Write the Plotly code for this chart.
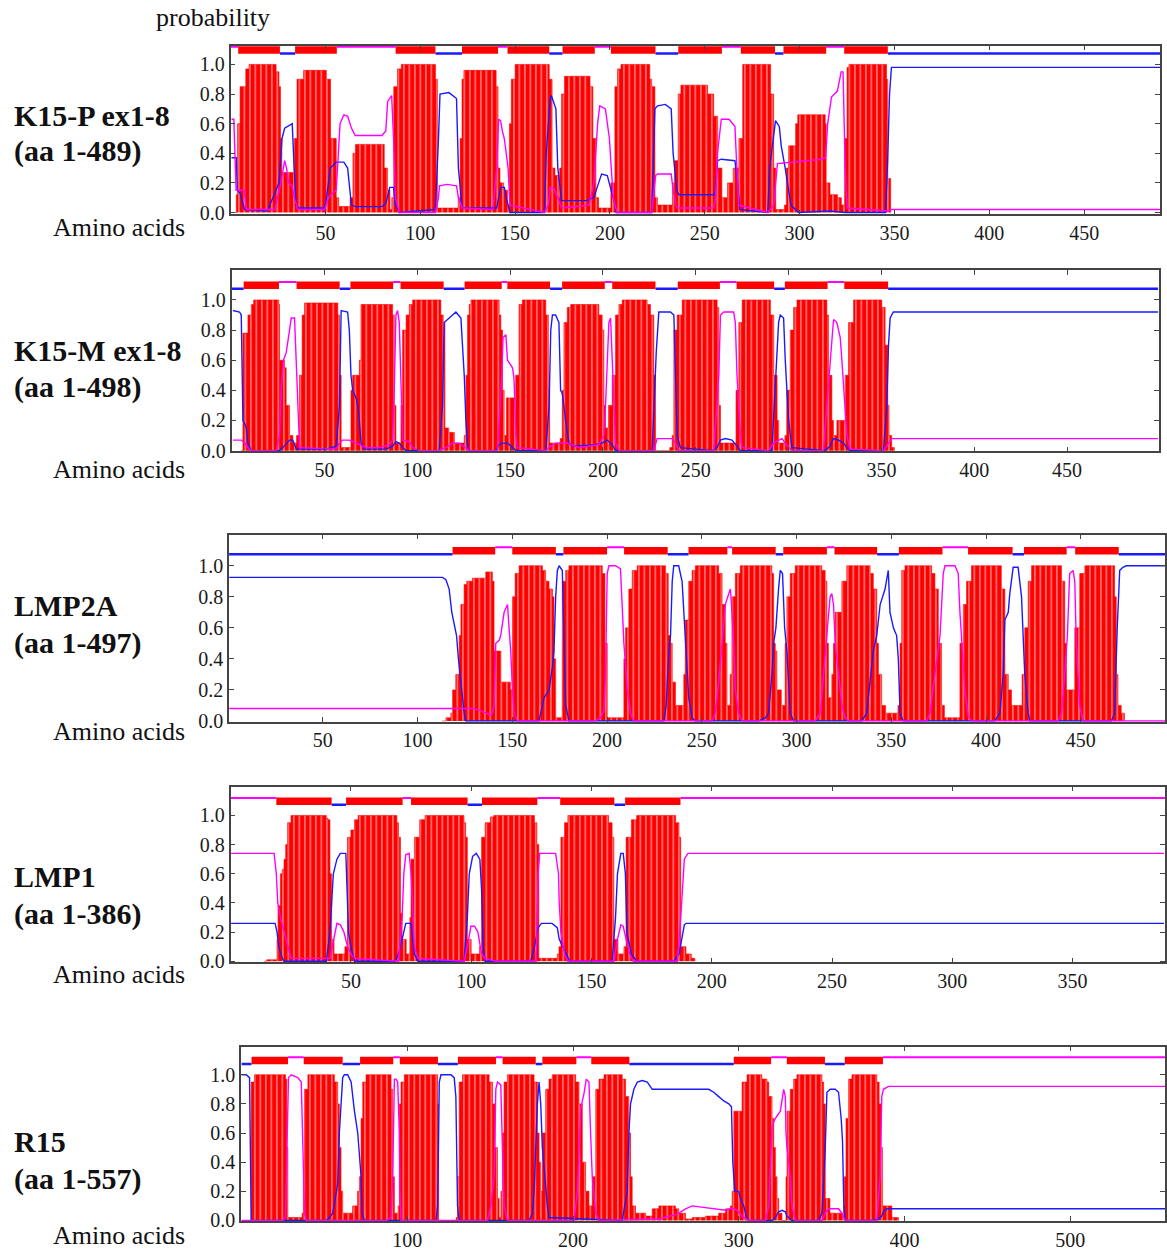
import plotly.graph_objects as go

W, H = 1167, 1258
RED, BLUE, MAG = '#ff0000', '#1a1aff', '#ff00ff'
FONT = 'Liberation Serif'

# ---------------- K15-P ex1-8 (aa 1-489) ----------------
K15P_TM = [(2,0),(3,0.12),(3.7,0.6),(5,0.85),(8,0.97),(9.7,1.0),(22.4,1.0),(24,0.95),(25.5,0.85),(26.3,0.5),(27,0.27),(32.5,0.27),(33,0.05),(33.5,0.5),(35,0.9),(38.5,0.96),(48.5,0.96),(50.5,0.9),(52.7,0.5),(55.7,0.1),(57,0.04),(62,0.04),(63,0.1),(64.5,0.4),(65.8,0.46),(79.8,0.46),(81,0.3),(82.7,0.15),(84,0.02),(85,0.1),(86,0.85),(88,0.97),(90,1.0),(106,1.0),(108,0.9),(109,0.03),(119,0.03),(120,0.1),(121,0.5),(122,0.9),(123,0.96),(138,0.96),(140,0.85),(141,0.3),(142,0.2),(144,0.15),(146,0.05),(147,0.6),(148,0.9),(150,1.0),(166,1.0),(168,0.9),(169.5,0.3),(171,0.25),(173,0.1),(173.5,0.3),(174.5,0.8),(176,0.92),(188,0.92),(189.5,0.85),(191,0.5),(192.6,0.1),(194,0.03),(199,0.03),(200.5,0.2),(202.6,0.85),(204,0.97),(205.8,1.0),(219.5,1.0),(221,0.9),(222,0.85),(223.7,0.1),(225,0.05),(232,0.05),(233,0.2),(234,0.35),(236,0.8),(237.4,0.86),(250,0.86),(251.5,0.8),(254.7,0.65),(256.8,0.3),(259,0.1),(262,0.2),(265,0.3),(267,0.3),(268,0.5),(270,1.0),(283,1.0),(284.7,0.8),(286.3,0.3),(287.4,0.02),(292,0.05),(293,0.3),(294.2,0.45),(297.9,0.6),(299,0.66),(312,0.66),(313.5,0.6),(314,0.2),(316,0.12),(320,0.1),(322,0.05),(323.7,0.5),(325,0.98),(326,1.0),(344.2,1.0),(345.8,0.9),(346.5,0.2),(347,0.23),(348,0.0)]
K15P_IN = [(0.5,0.37),(3,0.37),(3.5,0.15),(5,0.13),(7.3,0.02),(19.4,0.01),(25.5,0.2),(27.1,0.5),(28.5,0.57),(32.5,0.6),(33.5,0.3),(34.5,0.05),(36,0.03),(49.6,0.03),(50.6,0.1),(51.6,0.2),(52.6,0.3),(55.7,0.34),(59.7,0.34),(61.7,0.3),(62.7,0.15),(63.7,0.05),(65.7,0.04),(79.8,0.04),(81.8,0.06),(83.9,0.17),(85.9,0.17),(86.9,0.05),(88.9,0.0),(108,0.02),(109.6,0.5),(110.4,0.8),(115.1,0.81),(119.1,0.77),(120.1,0.3),(122.1,0.03),(140.3,0.03),(141.3,0.1),(142.3,0.17),(144.3,0.17),(145.3,0.1),(147.3,0.0),(165.4,0.0),(166.4,0.4),(168.5,0.77),(169.1,0.79),(171.5,0.7),(172.5,0.3),(174.5,0.08),(187.4,0.08),(191.5,0.1),(193.5,0.18),(195.6,0.26),(198.6,0.25),(200.7,0.15),(202.7,0.05),(203.3,0.0),(222,0.0),(223.7,0.7),(225.1,0.72),(229.2,0.73),(232.3,0.7),(233.3,0.4),(235.3,0.15),(236.3,0.12),(254.7,0.12),(255.7,0.15),(256.7,0.35),(258.7,0.36),(265.9,0.35),(267.3,0.2),(268.5,0.02),(283.2,0.0),(284.2,0.3),(287.3,0.62),(289.3,0.58),(290.3,0.45),(292.4,0.3),(295.4,0.05),(299.5,0.0),(315.8,0.01),(324,0.0),(345.3,0.0),(346.4,0.35),(347.4,0.8),(348.4,0.98),(350.4,0.98),(490,0.98)]
K15P_OUT = [(0.5,0.63),(1.7,0.63),(2.9,0.15),(7.3,0.15),(8.3,0.02),(23.4,0.02),(26.5,0.2),(28.5,0.35),(29.5,0.3),(30.5,0.2),(32.5,0.18),(33.5,0.1),(35.5,0.02),(49.6,0.02),(51.6,0.1),(53.7,0.13),(55.7,0.15),(56.7,0.4),(57.7,0.6),(59.7,0.66),(61.7,0.65),(63.7,0.57),(65.7,0.52),(79.8,0.52),(81.8,0.55),(82.8,0.75),(84.9,0.79),(85.9,0.5),(86.9,0.1),(88.9,0.0),(108,0.0),(109.6,0.1),(110.1,0.18),(114.1,0.19),(119.1,0.18),(120.1,0.1),(122.1,0.03),(138.3,0.02),(140.3,0.3),(141.3,0.63),(142.3,0.62),(143.3,0.55),(144.3,0.5),(146.3,0.3),(147.3,0.05),(165.4,0.0),(167.5,0.05),(168.5,0.17),(170.5,0.16),(172.5,0.1),(174.5,0.03),(189,0.05),(191.5,0.2),(193.5,0.6),(194.6,0.72),(197.6,0.7),(199.7,0.5),(201.7,0.1),(203.7,0.0),(222,0.0),(224.1,0.25),(225.1,0.26),(232.3,0.26),(233.3,0.15),(235.3,0.03),(254.7,0.03),(255.7,0.1),(256.7,0.4),(258.7,0.63),(262.8,0.63),(265.9,0.58),(266.9,0.3),(267.9,0.05),(283.2,0.0),(286.3,0.05),(288.3,0.33),(295.4,0.34),(311.7,0.36),(313.7,0.37),(314.8,0.6),(316.8,0.78),(319.9,0.82),(321.9,0.95),(322.9,0.95),(324,0.3),(325,0.03),(346.4,0.01),(348.4,0.02),(490,0.02)]
K15P_TOPO = [(0,4,'o'),(4,26,'t'),(26,34,'i'),(34,56,'t'),(56,87,'o'),(87,108,'t'),(108,122,'i'),(122,141,'t'),(141,146,'o'),(146,168,'t'),(168,175,'i'),(175,192,'t'),(192,200.5,'o'),(200.5,224,'t'),(224,236,'i'),(236,259,'t'),(259,269,'o'),(269,287,'t'),(287,291.5,'i'),(291.5,314,'t'),(314,323.5,'o'),(323.5,346.5,'t'),(346.5,490,'i')]
K15P_XTICKS = [50, 100, 150, 200, 250, 300, 350, 400, 450]

# ---------------- K15-M ex1-8 (aa 1-498) ----------------
K15M_TM = [(5.2,0),(6.1,0.78),(7.9,0.78),(8.8,0.9),(10.6,0.97),(11.9,1.0),(24,1.0),(25.4,0.97),(25.8,0.6),(28.5,0.55),(29.4,0.3),(31.2,0.1),(33,0.05),(35,0.1),(36.6,0.5),(38,0.9),(39.3,0.98),(55.4,0.98),(57.2,0.9),(58.1,0.5),(59,0.02),(63.5,0.02),(64.3,0.4),(65.2,0.5),(68.8,0.6),(69.7,0.97),(85,0.97),(86.7,0.9),(87.6,0.3),(88.5,0.05),(90.5,0.05),(91.2,0.3),(92.1,0.8),(94,0.9),(95.7,0.97),(97.5,1.0),(111,1.0),(112.7,0.9),(114,0.85),(114.9,0.15),(117,0.12),(120,0.05),(125.3,0.1),(126.2,0.5),(127.1,0.9),(128,0.97),(128.9,1.0),(142.3,1.0),(144.1,0.9),(145,0.8),(145.9,0.4),(146.8,0.1),(148,0.35),(151.5,0.35),(153,0.5),(154.8,0.97),(156.6,1.0),(167.4,1.0),(169.2,0.9),(170.6,0.4),(171.3,0.05),(177,0.08),(178.1,0.4),(179,0.85),(180.8,0.95),(182.6,0.97),(196,0.97),(197.8,0.9),(199.6,0.8),(200.5,0.3),(201.4,0.15),(203,0.3),(204.2,0.3),(205,0.5),(206.8,0.9),(208.6,0.97),(210.4,1.0),(222.1,1.0),(223.8,0.97),(225.6,0.9),(227.4,0.5),(228.3,0.0),(236,0.02),(237.3,0.1),(238.2,0.8),(240,0.9),(242.7,1.0),(258.8,1.0),(261.5,0.95),(262.4,0.3),(263.3,0.05),(270,0.05),(271.7,0.4),(273.2,0.85),(275,1.0),(288.5,1.0),(290.2,0.9),(292,0.5),(293.8,0.2),(294.7,0.05),(298,0.1),(299,0.4),(300.9,0.8),(302.7,0.95),(304.5,1.0),(318.8,1.0),(320.6,0.9),(321.5,0.5),(323.3,0.2),(324.2,0.1),(326,0.2),(329,0.2),(330.5,0.5),(332.3,0.85),(335,1.0),(348.4,1.0),(350.2,0.95),(352,0.7),(353.4,0.3),(354.1,0.1),(355.5,0.02),(357,0)]
K15M_IN = [(0.7,0.93),(4.3,0.92),(5.2,0.9),(6.1,0.2),(7,0.18),(7.9,0.15),(8.8,0.05),(10.6,0.0),(25.8,0.0),(27.6,0.02),(31.2,0.07),(33,0.07),(33.9,0.04),(34.8,0.01),(50.9,0.01),(56.3,0.03),(58.1,0.3),(59,0.93),(62.5,0.92),(63.4,0.8),(64.3,0.5),(65.2,0.4),(67,0.35),(67.9,0.3),(68.8,0.2),(69.7,0.05),(71.5,0.01),(83.1,0.01),(86.7,0.03),(88.5,0.06),(90.3,0.05),(92.1,0.02),(93.9,0.0),(111.8,0.0),(113.6,0.3),(114.5,0.85),(117.2,0.88),(120.8,0.92),(123.5,0.88),(125.3,0.5),(126.2,0.2),(127.1,0.03),(127.9,0.0),(142.3,0.0),(144.1,0.04),(145.9,0.05),(148.6,0.05),(151.3,0.02),(153.1,0.0),(169.2,0.0),(171,0.3),(171.9,0.8),(172.8,0.9),(174.5,0.9),(176.3,0.85),(177.2,0.4),(178.1,0.38),(179.9,0.2),(181.7,0.05),(183.5,0.03),(196,0.04),(199.6,0.05),(202.3,0.07),(205,0.04),(206.8,0.0),(226.5,0.0),(227.4,0.3),(228.7,0.65),(230.1,0.92),(236.4,0.92),(238.2,0.9),(239.1,0.5),(240,0.1),(241.7,0.02),(258.8,0.0),(261.5,0.02),(263.3,0.07),(265.9,0.08),(269.5,0.07),(272.2,0.03),(274,0.0),(291,0.0),(292.8,0.4),(294.6,0.85),(295.5,0.9),(297.3,0.88),(298.2,0.6),(299.1,0.4),(300,0.2),(301.8,0.02),(319.7,0.0),(322.4,0.03),(324.2,0.08),(326.9,0.07),(329.6,0.05),(331.3,0.02),(333.1,0.0),(351.1,0.0),(352.9,0.3),(353.8,0.7),(354.7,0.88),(356.4,0.92),(499,0.92)]
K15M_OUT = [(0.7,0.07),(5.2,0.07),(7,0.05),(8.8,0.02),(10.6,0.0),(24,0.0),(25.8,0.1),(26.7,0.4),(27.9,0.6),(29.4,0.65),(31.2,0.8),(32.1,0.88),(33.9,0.88),(34.8,0.6),(35.7,0.2),(36.6,0.02),(56.3,0.01),(58.1,0.05),(59.8,0.07),(63.4,0.07),(67,0.05),(72.4,0.02),(79.6,0.02),(84.9,0.04),(86.7,0.07),(87.6,0.4),(88.5,0.9),(89.4,0.93),(90.3,0.85),(91.2,0.5),(92.1,0.07),(95.7,0.06),(97.5,0.02),(101.1,0.0),(111.8,0.0),(115.4,0.02),(119,0.05),(122.6,0.05),(126.2,0.02),(127.9,0.0),(143.2,0.0),(144.1,0.2),(145.5,0.5),(146.2,0.75),(147.7,0.77),(148.6,0.6),(151.3,0.55),(152.1,0.48),(153.1,0.1),(153.9,0.02),(169.2,0.0),(171.9,0.03),(174.5,0.05),(180.8,0.05),(182.6,0.04),(187.1,0.02),(197.8,0.04),(200.5,0.1),(201.4,0.3),(202.3,0.55),(203.2,0.85),(204.1,0.88),(205,0.6),(205.9,0.3),(206.8,0.05),(208.6,0.0),(227.4,0.0),(229.2,0.08),(237.3,0.08),(239.1,0.05),(240.9,0.0),(259.7,0.0),(262.4,0.5),(263.3,0.9),(265.1,0.92),(270.4,0.92),(271.3,0.85),(272.2,0.5),(274,0.1),(274.9,0.02),(289.2,0.0),(291.9,0.05),(294.6,0.07),(296.4,0.08),(298.2,0.05),(300,0.02),(301.8,0.0),(318.8,0.0),(320.6,0.3),(322.4,0.6),(324.2,0.87),(326,0.85),(327.8,0.75),(328.7,0.6),(330.5,0.3),(331.4,0.1),(333.1,0.01),(351.1,0.0),(352.9,0.03),(355.5,0.08),(499,0.08)]
K15M_TOPO = [(0,6.5,'i'),(6.5,25.5,'t'),(25.5,35,'o'),(35,58.2,'t'),(58.2,64,'i'),(64,87,'t'),(87,91,'o'),(91,114.2,'t'),(114.2,125.5,'i'),(125.5,145.5,'t'),(145.5,148.5,'o'),(148.5,171.5,'t'),(171.5,178,'i'),(178,201,'t'),(201,205,'o'),(205,228.3,'t'),(228.3,240.3,'i'),(240.3,263,'t'),(263,272,'o'),(272,292.2,'t'),(292.2,298,'i'),(298,321,'t'),(321,330,'o'),(330,353.6,'t'),(353.6,499,'i')]
K15M_XTICKS = [50, 100, 150, 200, 250, 300, 350, 400, 450]

# ---------------- LMP2A (aa 1-497) ----------------
LMP2A_TM = [(113,0),(115,0.02),(117.6,0.05),(118.5,0.2),(120.2,0.3),(122,0.55),(122.9,0.75),(124.6,0.88),(126,0.9),(129,0.92),(132.5,0.92),(136,0.96),(138.7,0.96),(139.5,0.9),(140.4,0.45),(143.1,0.45),(144,0.25),(148.3,0.25),(149,0.2),(150.1,0.8),(151.5,0.95),(153.6,1.0),(165,1.0),(165.9,0.97),(167.6,0.9),(169.4,0.85),(171.2,0.8),(172,0.4),(172.9,0.02),(175.5,0.02),(176.4,0.9),(178.2,0.97),(179.9,1.0),(195.7,1.0),(197.5,0.95),(198.9,0.5),(200.1,0.02),(207,0.02),(208.9,0.4),(209.8,0.6),(211.5,0.85),(213.3,0.97),(215.9,1.0),(229.1,1.0),(230.9,0.95),(232.3,0.55),(233.5,0.5),(234.4,0.25),(236.1,0.1),(238.7,0.1),(240.5,0.3),(241.3,0.65),(243.1,0.9),(244.9,0.97),(246.6,1.0),(257.1,1.0),(258.9,0.95),(260.7,0.75),(262.4,0.5),(263.3,0.1),(265,0.3),(265.9,0.8),(267.7,0.95),(270.3,1.0),(285.2,1.0),(287,0.95),(287.9,0.5),(288.8,0.45),(289.6,0.2),(292,0.1),(294,0.5),(294.9,0.8),(296.7,0.95),(299.3,1.0),(311.6,1.0),(313.3,0.97),(315.1,0.9),(316,0.5),(316.8,0.15),(318.6,0.3),(319.5,0.5),(320.4,0.7),(323.9,0.9),(326.5,1.0),(337,1.0),(338.8,0.95),(340.5,0.85),(342.3,0.5),(343.2,0.3),(344.9,0.1),(347,0.05),(353.5,0.1),(354.6,0.5),(355.5,0.97),(357.2,1.0),(369.5,1.0),(371.3,0.95),(373,0.85),(374.8,0.5),(376.5,0.1),(378,0.02),(385,0.02),(386.2,0.5),(388,0.75),(389.7,0.9),(392.3,1.0),(406.4,1.0),(408.1,0.85),(409.9,0.3),(411.7,0.2),(413.4,0.1),(416,0.1),(419,0.3),(420.4,0.6),(422.2,0.9),(424,1.0),(438,1.0),(439.8,0.9),(441.5,0.5),(442.4,0.2),(445,0.2),(446.8,0.6),(449.4,0.95),(452.1,1.0),(466.1,1.0),(467.8,0.8),(468.7,0.3),(469.6,0.1),(471.3,0.05),(473,0)]
LMP2A_IN = [(0.6,0.925),(113.2,0.925),(115,0.91),(116.7,0.85),(118.1,0.7),(119.4,0.62),(120.6,0.55),(121.6,0.4),(122.9,0.25),(123.7,0.12),(124.6,0.05),(125.5,0.0),(164.1,0.0),(165,0.05),(166.8,0.15),(169.4,0.2),(171.2,0.35),(172,0.45),(172.9,0.8),(173.8,0.97),(174.7,1.0),(176.4,0.97),(177.3,0.5),(178.2,0.1),(179.9,0.0),(230,0.0),(231.2,0.1),(232.6,0.45),(233.5,0.55),(234.4,0.9),(235.2,1.0),(237.8,1.0),(239.6,0.9),(241.3,0.5),(243.1,0.15),(244.9,0.02),(246.6,0.0),(280,0.0),(283.5,0.02),(285.2,0.05),(287,0.3),(287.9,0.5),(289.1,0.6),(290.5,0.85),(291.4,0.97),(292.6,0.95),(293.7,0.6),(294.9,0.45),(295.8,0.2),(296.7,0.05),(298.4,0.0),(334.4,0.0),(337,0.05),(338.8,0.25),(340.5,0.45),(342.3,0.55),(344.1,0.75),(346.7,0.85),(348.4,0.97),(349.3,0.7),(351.1,0.6),(352.8,0.55),(353.7,0.4),(354.6,0.05),(356.3,0.0),(404.6,0.0),(407.3,0.05),(409,0.3),(409.9,0.65),(411.7,0.7),(412.5,0.82),(414.3,0.99),(416.9,0.99),(418.7,0.8),(419.6,0.5),(420.4,0.3),(422.2,0.05),(423.1,0.0),(466.1,0.0),(467.8,0.05),(469.2,0.6),(470.5,0.97),(472.2,0.99),(474,1.0),(498,1.0)]
LMP2A_OUT = [(0.6,0.08),(129,0.08),(132.5,0.07),(136,0.05),(138.7,0.04),(139.5,0.05),(140.4,0.1),(141.3,0.5),(143.1,0.52),(143.9,0.55),(145.7,0.7),(147.5,0.75),(148.3,0.6),(149.2,0.45),(150.1,0.2),(151,0.05),(152.7,0.0),(194,0.0),(196.6,0.02),(198.4,0.07),(199.2,0.3),(200.1,0.95),(201,1.0),(204.5,1.0),(207.1,0.98),(208,0.7),(208.9,0.5),(210.7,0.2),(212.4,0.05),(214.2,0.0),(255.4,0.0),(257.1,0.05),(258.9,0.25),(260.7,0.5),(262.4,0.75),(264.2,0.82),(265.1,0.85),(265.9,0.7),(266.8,0.5),(267.7,0.2),(269.4,0.05),(271.2,0.0),(309.8,0.0),(312.5,0.05),(315.1,0.4),(316.8,0.65),(317.7,0.8),(318.6,0.82),(319.5,0.75),(320.4,0.5),(322.1,0.3),(323.9,0.1),(325.6,0.02),(327.4,0.0),(368.6,0.0),(370.4,0.05),(373,0.3),(375.7,0.55),(377.4,0.95),(378.3,1.0),(383.6,1.0),(385.3,0.95),(386.2,0.7),(387.1,0.5),(388.8,0.2),(390.6,0.03),(392.3,0.0),(438,0.0),(439.8,0.05),(441.5,0.3),(442.9,0.55),(444.1,0.95),(445.9,0.97),(446.8,0.9),(447.6,0.5),(449.4,0.1),(451.2,0.0),(498,0.0)]
LMP2A_TOPO = [(0,118.5,'i'),(118.5,141,'t'),(141,150,'o'),(150,173,'t'),(173,177,'i'),(177,200,'t'),(200,209,'o'),(209,232,'t'),(232,243,'i'),(243,263.5,'t'),(263.5,266,'o'),(266,289,'t'),(289,293,'i'),(293,316,'t'),(316,320,'o'),(320,342.5,'t'),(342.5,354,'i'),(354,377,'t'),(377,390.5,'o'),(390.5,414,'t'),(414,420,'i'),(420,442.5,'t'),(442.5,447,'o'),(447,470,'t'),(470,498,'i')]
LMP2A_XTICKS = [50, 100, 150, 200, 250, 300, 350, 400, 450]

# ---------------- LMP1 (aa 1-386) ----------------
LMP1_TM = [(14,0),(15,0.01),(18.5,0.01),(19.3,0.15),(19.7,0.38),(20.7,0.6),(21.5,0.63),(22.2,0.7),(22.9,0.8),(23.7,0.95),(25.1,1.0),(38.3,1.0),(39.8,0.98),(40.5,0.97),(41.3,0.6),(42,0.15),(43,0.05),(47.5,0.1),(48.6,0.85),(50,0.9),(51.5,0.97),(53,1.0),(67.6,1.0),(69.1,0.95),(69.8,0.85),(70.6,0.33),(71.3,0.15),(73,0.05),(74.5,0.3),(75,0.7),(76.4,0.85),(78.6,0.97),(80.8,1.0),(95.5,1.0),(97,0.95),(97.7,0.85),(98.4,0.15),(100,0.05),(103.5,0.1),(104.3,0.85),(105.8,0.95),(108,0.99),(109.4,1.0),(124.8,1.0),(126.3,0.95),(127.3,0.8),(128.1,0.02),(135.8,0.05),(136.5,0.1),(137.3,0.85),(138.8,0.95),(140.2,1.0),(155.6,1.0),(157.1,0.95),(158.6,0.85),(159.3,0.15),(161,0.05),(163.5,0.1),(164.4,0.85),(166.6,0.97),(168.8,1.0),(182.7,1.0),(185,0.95),(186.4,0.85),(187.1,0.1),(189.3,0.05),(191.5,0.02),(193,0)]
LMP1_IN = [(0.2,0.26),(18.5,0.26),(19.3,0.2),(20,0.1),(21.5,0.02),(22.2,0.0),(39.8,0.0),(41.3,0.2),(42,0.4),(42.7,0.6),(44.2,0.7),(45.6,0.74),(47.9,0.74),(48.3,0.5),(49,0.2),(50,0.1),(51.5,0.0),(68.4,0.0),(69.8,0.05),(71.3,0.15),(72.8,0.26),(75,0.26),(75.7,0.15),(76.4,0.05),(77.9,0.0),(97,0.0),(98.4,0.3),(99.2,0.6),(100.6,0.72),(102.1,0.74),(103.6,0.7),(104.3,0.5),(105,0.1),(105.8,0.0),(124.8,0.0),(126.3,0.1),(127.8,0.23),(129.2,0.26),(133.6,0.26),(135.8,0.23),(136.6,0.15),(138,0.1),(139.5,0.05),(141,0.0),(158.6,0.0),(160,0.3),(160.8,0.6),(162.2,0.74),(163.2,0.74),(164.1,0.6),(164.7,0.2),(166.6,0.05),(168.8,0.0),(184.2,0.0),(186.4,0.05),(187.6,0.15),(188.6,0.25),(189.3,0.26),(388,0.26)]
LMP1_OUT = [(0.2,0.74),(18.1,0.74),(19,0.6),(19.6,0.4),(20.7,0.3),(22.2,0.2),(23.7,0.1),(25.1,0.02),(41.3,0.02),(42.7,0.15),(44.2,0.26),(45.6,0.25),(47.1,0.2),(48.6,0.1),(50,0.05),(51.5,0.02),(69.8,0.0),(71.3,0.3),(72,0.6),(72.8,0.73),(74.2,0.74),(75,0.6),(75.7,0.3),(76.4,0.1),(77.9,0.02),(97,0.0),(98.4,0.1),(99.9,0.24),(101.4,0.24),(102.8,0.2),(104.3,0.05),(105.8,0.02),(110.2,0.0),(127,0.0),(127.8,0.6),(128.5,0.74),(135.1,0.74),(136.3,0.6),(136.6,0.4),(137.3,0.2),(138.8,0.05),(140.2,0.0),(159.3,0.0),(160.8,0.15),(162.2,0.25),(163.2,0.24),(164.4,0.15),(165.9,0.05),(167.4,0.0),(185.7,0.0),(187.1,0.3),(187.9,0.55),(188.6,0.7),(190.1,0.74),(388,0.74)]
LMP1_TOPO = [(0,19,'o'),(19,42,'t'),(42,48,'i'),(48,71.5,'t'),(71.5,75,'o'),(75,98.5,'t'),(98.5,104.5,'i'),(104.5,127.5,'t'),(127.5,137,'o'),(137,159.5,'t'),(159.5,164,'i'),(164,187,'t'),(187,389,'o')]
LMP1_XTICKS = [50, 100, 150, 200, 250, 300, 350]

# ---------------- R15 (aa 1-557) ----------------
R15_TM = [(5,0),(5.8,0.95),(7.8,1.0),(24.9,1.0),(26.5,0.97),(27.3,0.5),(27.9,0.02),(36.5,0.05),(37.3,0.3),(38,0.9),(40,1.0),(54,1.0),(56,0.95),(58,0.8),(59,0.5),(60,0.2),(61,0.05),(67,0.1),(70,0.2),(71.1,0.3),(72.1,0.7),(73.1,0.95),(75.1,1.0),(89.2,1.0),(90.2,0.9),(91.2,0.3),(92.2,0.05),(94.5,0.1),(95.2,0.8),(96.2,0.95),(98.2,1.0),(117.3,1.0),(118.3,0.8),(118.9,0.0),(129.5,0.02),(130.3,0.3),(131.3,0.95),(133.3,1.0),(147.4,1.0),(149.4,0.95),(151.4,0.8),(153,0.5),(154.4,0.15),(155.4,0.02),(156.5,0.2),(157.4,0.6),(158.4,0.95),(160.4,1.0),(174.5,1.0),(176.5,0.95),(178.5,0.6),(179.5,0.4),(180.5,0.2),(181.5,0.6),(183.5,0.9),(185.5,0.97),(187.5,1.0),(199.6,1.0),(201.6,0.95),(203.6,0.8),(205.6,0.4),(207.6,0.2),(209.6,0.1),(210.6,0.1),(211.6,0.3),(213.7,0.9),(215.7,0.97),(218.7,1.0),(227.7,1.0),(229.7,0.97),(231.7,0.85),(233.7,0.6),(234.7,0.3),(235.7,0.1),(237.7,0.05),(240.8,0.05),(243.8,0.03),(247.8,0.08),(251.8,0.1),(259.8,0.1),(261.8,0.08),(263.8,0.05),(265.9,0.05),(267.9,0.01),(271.9,0.02),(279.9,0.03),(287.9,0.05),(292,0.08),(295,0.1),(296,0.2),(297,0.75),(300,0.75),(302,0.95),(305,1.0),(312,1.0),(314,0.97),(317,0.95),(318.1,0.85),(320.1,0.7),(321.1,0.5),(322.1,0.3),(323.1,0.15),(324.1,0.05),(326.1,0.0),(328.5,0.3),(329.1,0.75),(331.1,0.9),(333.1,0.97),(335.1,1.0),(349.2,1.0),(350.2,0.95),(351.2,0.8),(352.2,0.15),(355,0.05),(359.2,0.05),(363.2,0.1),(363.8,0.3),(364.7,0.7),(366.3,0.97),(368.3,1.0),(381.3,1.0),(383.3,0.95),(384.7,0.8),(385.9,0.5),(386.7,0.1),(392.4,0.02),(396.4,0)]
R15_IN = [(0,1.0),(2.8,1.0),(4.8,0.98),(5.4,0.5),(5.8,0.0),(51,0.0),(53,0.02),(55,0.05),(57,0.2),(58,0.25),(59,0.6),(60,0.8),(61,0.98),(62,1.0),(64,1.0),(66.1,0.95),(67.1,0.85),(68.1,0.75),(70.1,0.6),(71.1,0.45),(72.1,0.3),(72.7,0.05),(74.1,0.0),(117.3,0.0),(118.3,0.1),(119.3,0.95),(120.3,1.0),(126.3,1.0),(128.3,0.98),(129.3,0.85),(130.3,0.1),(131.3,0.0),(173.5,0.0),(175.5,0.05),(176.5,0.2),(177.5,0.5),(178.5,0.8),(179.5,0.95),(180.5,0.8),(181.5,0.5),(182.5,0.35),(183.5,0.25),(184.5,0.1),(185.5,0.02),(229.7,0.0),(232.7,0.2),(233.7,0.6),(234.7,0.8),(236.7,0.9),(238.8,0.95),(241.8,0.96),(244.8,0.95),(246.8,0.91),(247.8,0.9),(281.9,0.9),(284.9,0.88),(287.9,0.85),(291,0.82),(294,0.8),(295.6,0.78),(296.4,0.4),(297.6,0.2),(300,0.2),(301,0.15),(303,0.1),(305,0.01),(306,0.0),(320.1,0.0),(322.1,0.02),(324.1,0.06),(326.1,0.07),(328.1,0.06),(329.1,0.03),(332.1,0.0),(348.2,0.0),(350.2,0.05),(352.2,0.5),(353.2,0.88),(355.2,0.9),(358.2,0.9),(360.2,0.88),(361.8,0.7),(362.6,0.55),(363.4,0.1),(364.2,0.0),(380.3,0.0),(384.3,0.01),(386.3,0.03),(387.3,0.06),(389.4,0.08),(557.2,0.08)]
R15_OUT = [(0,0.0),(24.9,0.0),(26.5,0.02),(27.3,0.5),(28.3,0.98),(29.9,1.0),(33.9,0.98),(36,0.95),(37,0.5),(38,0.05),(39,0.0),(87.2,0.0),(90.2,0.02),(91.2,0.3),(92.2,0.97),(93.2,0.97),(94.2,0.95),(95.2,0.6),(95.6,0.2),(96.2,0.0),(148.4,0.0),(150.4,0.1),(152.4,0.3),(153.4,0.9),(154.4,0.95),(156.4,0.93),(157.4,0.5),(158.4,0.1),(160.4,0.0),(200.6,0.0),(202.6,0.2),(204.6,0.75),(205.6,0.82),(206.6,0.87),(208,0.97),(209.6,0.95),(210.6,0.6),(211.6,0.3),(213.7,0.05),(215.7,0.0),(251.8,0.01),(255.8,0.02),(261.8,0.04),(263.8,0.05),(267.9,0.08),(271.9,0.1),(277.9,0.09),(283.9,0.08),(292,0.07),(295,0.08),(297,0.08),(299,0.07),(302,0.03),(306,0.0),(316,0.0),(318.1,0.1),(320.1,0.65),(322.1,0.7),(325.1,0.75),(327.1,0.9),(328.1,0.85),(328.5,0.6),(329.1,0.5),(331.1,0.3),(332.1,0.1),(334.1,0.0),(350.2,0.0),(352.2,0.05),(354.2,0.08),(360.2,0.08),(362.2,0.05),(364.2,0.0),(383.3,0.0),(385.3,0.3),(386.3,0.85),(387.3,0.9),(390.4,0.92),(557.2,0.92)]
R15_TOPO = [(0,6,'i'),(6,28,'t'),(28,37.5,'o'),(37.5,61,'t'),(61,71.5,'i'),(71.5,91.5,'t'),(91.5,95.5,'o'),(95.5,118.5,'t'),(118.5,130.5,'i'),(130.5,153.5,'t'),(153.5,157.5,'o'),(157.5,177.5,'t'),(177.5,181.5,'i'),(181.5,202,'t'),(202,211,'o'),(211,234,'t'),(234,297,'i'),(297,319.5,'t'),(319.5,329,'o'),(329,352,'t'),(352,364,'i'),(364,387,'t'),(387,558,'o')]
R15_XTICKS = [100, 200, 300, 400, 500]

Y_TICKS = [0.0, 0.2, 0.4, 0.6, 0.8, 1.0]

PANEL_NAMES = ['K15-P ex1-8', 'K15-M ex1-8', 'LMP2A', 'LMP1', 'R15']
PANEL_SUBS = ['(aa 1-489)', '(aa 1-498)', '(aa 1-497)', '(aa 1-386)', '(aa 1-557)']

# layout geometry (pixels) and axis ranges
PANELS = [
    dict(tm=K15P_TM, inn=K15P_IN, out=K15P_OUT, topo=K15P_TOPO, xt=K15P_XTICKS,
         l=231, r=1162, t=46, b=216, xr=[0, 490], yr=[-0.012, 1.127], ly=(116, 152, 229)),
    dict(tm=K15M_TM, inn=K15M_IN, out=K15M_OUT, topo=K15M_TOPO, xt=K15M_XTICKS,
         l=232, r=1161, t=272, b=455, xr=[0, 499.5], yr=[-0.005, 1.2], ly=(353, 390, 473)),
    dict(tm=LMP2A_TM, inn=LMP2A_IN, out=LMP2A_OUT, topo=LMP2A_TOPO, xt=LMP2A_XTICKS,
         l=229.5, r=1167, t=539, b=727.5, xr=[0.6, 494.4], yr=[-0.005, 1.2], ly=(610, 648, 737)),
    dict(tm=LMP1_TM, inn=LMP1_IN, out=LMP1_OUT, topo=LMP1_TOPO, xt=LMP1_XTICKS,
         l=231, r=1167, t=793, b=970, xr=[0, 388.4], yr=[-0.007, 1.197], ly=(884, 921, 982)),
    dict(tm=R15_TM, inn=R15_IN, out=R15_OUT, topo=R15_TOPO, xt=R15_XTICKS,
         l=241.5, r=1167, t=1055, b=1231, xr=[-0.3, 557.2], yr=[-0.005, 1.193], ly=(1151, 1188, 1245)),
]

TOPO_STYLE = {'t': (1.097, 7.5, RED), 'i': (1.074, 2.5, BLUE), 'o': (1.12, 2, MAG)}

fig = go.Figure()
annotations = []
layout_axes = {}

for i, p in enumerate(PANELS):
    n = i + 1
    xa = 'x' if n == 1 else f'x{n}'
    ya = 'y' if n == 1 else f'y{n}'
    # TM probability (filled, impulse-like stripes)
    fig.add_trace(go.Scatter(x=[v[0] for v in p['tm']], y=[v[1] for v in p['tm']],
                             mode='lines', fill='tozeroy', fillcolor=RED,
                             fillpattern=dict(shape='|', size=5.5, solidity=0.18,
                                              fgcolor='#ffc4c4', bgcolor=RED, fillmode='replace'),
                             line=dict(color=RED, width=0.6, shape='hv'), xaxis=xa, yaxis=ya,
                             hoverinfo='skip', showlegend=False))
    # inside
    fig.add_trace(go.Scatter(x=[v[0] for v in p['inn']], y=[v[1] for v in p['inn']],
                             mode='lines', line=dict(color=BLUE, width=1.4),
                             xaxis=xa, yaxis=ya, hoverinfo='skip', showlegend=False))
    # outside
    fig.add_trace(go.Scatter(x=[v[0] for v in p['out']], y=[v[1] for v in p['out']],
                             mode='lines', line=dict(color=MAG, width=1.4),
                             xaxis=xa, yaxis=ya, hoverinfo='skip', showlegend=False))
    # topology band
    for kind in ['i', 'o', 't']:
        lvl, wd, col = TOPO_STYLE[kind]
        xs, ys = [], []
        for s, e, k in p['topo']:
            if k == kind:
                xs += [s, e, None]
                ys += [lvl, lvl, None]
        fig.add_trace(go.Scatter(x=xs, y=ys, mode='lines', line=dict(color=col, width=wd),
                                 xaxis=xa, yaxis=ya, hoverinfo='skip', showlegend=False))

    axcommon = dict(showline=True, linecolor='#444', linewidth=1.5, mirror='ticks',
                    ticks='inside', ticklen=5, tickcolor='#444', showgrid=False,
                    zeroline=False, tickfont=dict(family=FONT, size=20, color='#1a1a1a'))
    xkey = 'xaxis' if n == 1 else f'xaxis{n}'
    ykey = 'yaxis' if n == 1 else f'yaxis{n}'
    layout_axes[xkey] = dict(domain=[p['l'] / W, p['r'] / W], range=p['xr'], anchor=ya,
                             tickvals=p['xt'], ticktext=[str(v) for v in p['xt']], **axcommon)
    layout_axes[ykey] = dict(domain=[1 - p['b'] / H, 1 - p['t'] / H], range=p['yr'], anchor=xa,
                             tickvals=Y_TICKS, ticktext=[f'{v:.1f}' for v in Y_TICKS], **axcommon)

    y1, y2, y3 = p['ly']
    annotations.append(dict(text=f'<b>{PANEL_NAMES[i]}</b>', x=12 / W, y=1 - y1 / H, xref='paper', yref='paper',
                            xanchor='left', yanchor='middle', showarrow=False,
                            font=dict(family=FONT, size=30, color='#111')))
    annotations.append(dict(text=f'<b>{PANEL_SUBS[i]}</b>', x=12 / W, y=1 - y2 / H, xref='paper', yref='paper',
                            xanchor='left', yanchor='middle', showarrow=False,
                            font=dict(family=FONT, size=30, color='#111')))
    annotations.append(dict(text='Amino acids', x=187 / W, y=1 - y3 / H, xref='paper', yref='paper',
                            xanchor='right', yanchor='middle', showarrow=False,
                            font=dict(family=FONT, size=26, color='#111')))

annotations.append(dict(text='probability', x=213 / W, y=1 - 18 / H, xref='paper', yref='paper',
                        xanchor='center', yanchor='middle', showarrow=False,
                        font=dict(family=FONT, size=26, color='#111')))

fig.update_layout(width=W, height=H, margin=dict(l=0, r=0, t=0, b=0),
                  paper_bgcolor='white', plot_bgcolor='white',
                  annotations=annotations, showlegend=False, **layout_axes)

fig.write_html('out.html')
